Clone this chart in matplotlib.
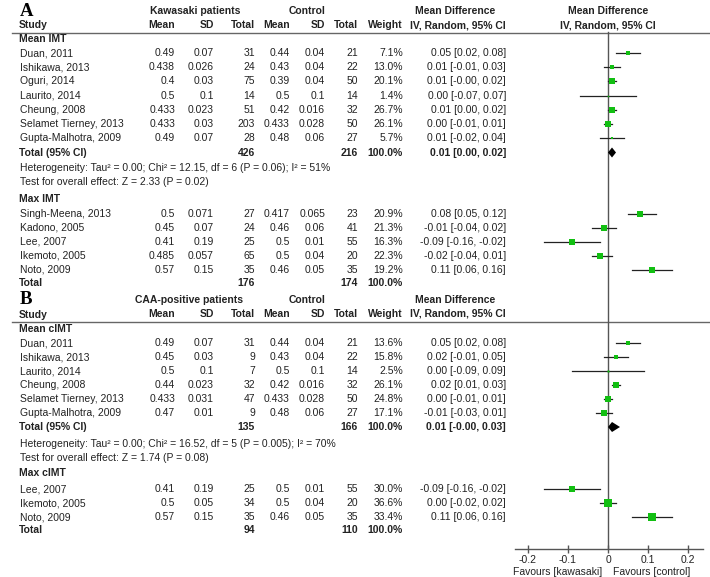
import matplotlib
matplotlib.use("Agg")
from matplotlib import pyplot as plt

plt.rcParams['font.family'] = ['Liberation Sans', 'DejaVu Sans']

# ---- data -------------------------------------------------------------
# panel A, mean IMT
a1_study = ["Duan, 2011", "Ishikawa, 2013", "Oguri, 2014", "Laurito, 2014",
            "Cheung, 2008", "Selamet Tierney, 2013", "Gupta-Malhotra, 2009"]
a1_m1 = [0.49, 0.438, 0.4, 0.5, 0.433, 0.433, 0.49]
a1_s1 = [0.07, 0.026, 0.03, 0.1, 0.023, 0.03, 0.07]
a1_n1 = [31, 24, 75, 14, 51, 203, 28]
a1_m2 = [0.44, 0.43, 0.39, 0.5, 0.42, 0.433, 0.48]
a1_s2 = [0.04, 0.04, 0.04, 0.1, 0.016, 0.028, 0.06]
a1_n2 = [21, 22, 50, 14, 32, 50, 27]
a1_w = [7.1, 13.0, 20.1, 1.4, 26.7, 26.1, 5.7]
a1_md = [0.05, 0.01, 0.01, 0.00, 0.01, 0.00, 0.01]
a1_lo = [0.02, -0.01, -0.0, -0.07, 0.00, -0.01, -0.02]
a1_hi = [0.08, 0.03, 0.02, 0.07, 0.02, 0.01, 0.04]
a1_tot = (426, 216, 0.01, 0.00, 0.02)
a1_het = "Heterogeneity: Tau\u00b2 = 0.00; Chi\u00b2 = 12.15, df = 6 (P = 0.06); I\u00b2 = 51%"
a1_z = "Test for overall effect: Z = 2.33 (P = 0.02)"

# panel A, max IMT
a2_study = ["Singh-Meena, 2013", "Kadono, 2005", "Lee, 2007", "Ikemoto, 2005", "Noto, 2009"]
a2_m1 = [0.5, 0.45, 0.41, 0.485, 0.57]
a2_s1 = [0.071, 0.07, 0.19, 0.057, 0.15]
a2_n1 = [27, 24, 25, 65, 35]
a2_m2 = [0.417, 0.46, 0.5, 0.5, 0.46]
a2_s2 = [0.065, 0.06, 0.01, 0.04, 0.05]
a2_n2 = [23, 41, 55, 20, 35]
a2_w = [20.9, 21.3, 16.3, 22.3, 19.2]
a2_md = [0.08, -0.01, -0.09, -0.02, 0.11]
a2_lo = [0.05, -0.04, -0.16, -0.04, 0.06]
a2_hi = [0.12, 0.02, -0.02, 0.01, 0.16]
a2_tot = (176, 174)

# panel B, mean cIMT
b1_study = ["Duan, 2011", "Ishikawa, 2013", "Laurito, 2014", "Cheung, 2008",
            "Selamet Tierney, 2013", "Gupta-Malhotra, 2009"]
b1_m1 = [0.49, 0.45, 0.5, 0.44, 0.433, 0.47]
b1_s1 = [0.07, 0.03, 0.1, 0.023, 0.031, 0.01]
b1_n1 = [31, 9, 7, 32, 47, 9]
b1_m2 = [0.44, 0.43, 0.5, 0.42, 0.433, 0.48]
b1_s2 = [0.04, 0.04, 0.1, 0.016, 0.028, 0.06]
b1_n2 = [21, 22, 14, 32, 50, 27]
b1_w = [13.6, 15.8, 2.5, 26.1, 24.8, 17.1]
b1_md = [0.05, 0.02, 0.00, 0.02, 0.00, -0.01]
b1_lo = [0.02, -0.01, -0.09, 0.01, -0.01, -0.03]
b1_hi = [0.08, 0.05, 0.09, 0.03, 0.01, 0.01]
b1_tot = (135, 166, 0.01, -0.0, 0.03)
b1_het = "Heterogeneity: Tau\u00b2 = 0.00; Chi\u00b2 = 16.52, df = 5 (P = 0.005); I\u00b2 = 70%"
b1_z = "Test for overall effect: Z = 1.74 (P = 0.08)"

# panel B, max cIMT
b2_study = ["Lee, 2007", "Ikemoto, 2005", "Noto, 2009"]
b2_m1 = [0.41, 0.5, 0.57]
b2_s1 = [0.19, 0.05, 0.15]
b2_n1 = [25, 34, 35]
b2_m2 = [0.5, 0.5, 0.46]
b2_s2 = [0.01, 0.04, 0.05]
b2_n2 = [55, 20, 35]
b2_w = [30.0, 36.6, 33.4]
b2_md = [-0.09, 0.00, 0.11]
b2_lo = [-0.16, -0.02, 0.06]
b2_hi = [-0.02, 0.02, 0.16]
b2_tot = (94, 110)

ticks = [-0.2, -0.1, 0, 0.1, 0.2]
tick_labels = ["-0.2", "-0.1", "0", "0.1", "0.2"]

# ---- layout -----------------------------------------------------------
TXT = '#222222'
GREEN = '#12bf12'
FS = 7.5
cols = [175, 214, 255, 290, 325, 358]   # right edges of numeric columns
X_W = 403
X_CI = 506

fig = plt.figure(figsize=(7.1, 5.77), dpi=100)
ax = fig.add_axes([0, 0, 1, 1])
ax.set_xlim(0, 710)
ax.set_ylim(577, 0)
ax.axis('off')

fx = fig.add_axes([515 / 710, 28 / 577, 188 / 710, 549 / 577])
fx.set_xlim(-0.2325, 0.2375)
fx.set_ylim(549, 0)
fx.patch.set_alpha(0)
for s in ['top', 'left', 'right']:
    fx.spines[s].set_visible(False)
fx.spines['bottom'].set_color('#555555')
fx.spines['bottom'].set_linewidth(1)
fx.set_yticks([])
fx.set_xticks(ticks)
fx.set_xticklabels(tick_labels)
fx.tick_params(axis='x', direction='inout', length=6, width=1, color='#555555',
               labelsize=FS, labelcolor=TXT, pad=1)
fx.plot([0, 0], [32, 549], color='#555555', lw=1, zorder=1)


def txt(x, y, s, ha='left', bold=False, **kw):
    ax.text(x, y, s, ha=ha, va='center', fontsize=FS, color=TXT,
            fontweight='bold' if bold else 'normal', **kw)


def ci_str(md, lo, hi):
    return f"{md:.2f} [{lo:.2f}, {hi:.2f}]"


def header(y, letter, group, top_right):
    ax.text(20, y + 4.5, letter, ha='left', va='baseline', fontsize=13.5,
            fontweight='bold', family='Liberation Serif', color='black')
    txt(195 if group.startswith('K') else 189, y, group, ha='center', bold=True)
    txt(307, y, "Control", ha='center', bold=True)
    txt(455, y, "Mean Difference", ha='center', bold=True)
    y2 = y + 14
    txt(19, y2 + 0.5, "Study", bold=True)
    for x, s in zip(cols, ["Mean", "SD", "Total", "Mean", "SD", "Total"]):
        txt(x, y2, s, ha='right', bold=True)
    txt(X_W, y2, "Weight", ha='right', bold=True)
    txt(X_CI, y2, "IV, Random, 95% CI", ha='right', bold=True)
    if top_right:
        txt(608, y, "Mean Difference", ha='center', bold=True)
        txt(608, y2, "IV, Random, 95% CI", ha='center', bold=True)
    ax.plot([12, 710], [y2 + 8, y2 + 8], color='#666666', lw=1)


def group(y_label, y0, step, name, study, m1, s1, n1, m2, s2, n2, w, md, lo, hi):
    txt(19, y_label, name, bold=True)
    for i in range(len(study)):
        y = y0 + i * step
        txt(20, y, study[i])
        for x, v in zip(cols, [m1[i], s1[i], n1[i], m2[i], s2[i], n2[i]]):
            txt(x, y, str(v), ha='right')
        txt(X_W, y, f"{w[i]:.1f}%", ha='right')
        txt(X_CI, y, ci_str(md[i], lo[i], hi[i]), ha='right')
        fx.plot([lo[i], hi[i]], [y, y], color='#222222', lw=0.9, zorder=2)
        fx.plot(md[i], y, 's', color=GREEN, mec=GREEN, mew=0,
                ms=0.9 * w[i] ** 0.5, zorder=3)


def total(y, label, tot):
    txt(19, y, label, bold=True)
    txt(cols[2], y, str(tot[0]), ha='right', bold=True)
    txt(cols[5], y, str(tot[1]), ha='right', bold=True)
    txt(X_W, y, "100.0%", ha='right', bold=True)
    if len(tot) > 2:
        md, lo, hi = tot[2], tot[3], tot[4]
        txt(X_CI, y, ci_str(md, lo, hi), ha='right', bold=True)
        fx.fill([lo, md, hi, md], [y, y - 5, y, y + 5], color='black', lw=0, zorder=3)


# panel A
header(11, "A", "Kawasaki patients", True)
group(39, 53, 14.2, "Mean IMT", a1_study, a1_m1, a1_s1, a1_n1, a1_m2, a1_s2,
      a1_n2, a1_w, a1_md, a1_lo, a1_hi)
total(152.5, "Total (95% CI)", a1_tot)
txt(20, 168, a1_het)
txt(20, 182, a1_z)
group(199, 214, 14, "Max IMT", a2_study, a2_m1, a2_s1, a2_n1, a2_m2, a2_s2,
      a2_n2, a2_w, a2_md, a2_lo, a2_hi)
total(283.5, "Total", a2_tot)

# panel B
header(300, "B", "CAA-positive patients", False)
group(329, 343, 14, "Mean cIMT", b1_study, b1_m1, b1_s1, b1_n1, b1_m2, b1_s2,
      b1_n2, b1_w, b1_md, b1_lo, b1_hi)
total(427, "Total (95% CI)", b1_tot)
txt(20, 444, b1_het)
txt(20, 458, b1_z)
group(473, 489, 14, "Max cIMT", b2_study, b2_m1, b2_s1, b2_n1, b2_m2, b2_s2,
      b2_n2, b2_w, b2_md, b2_lo, b2_hi)
total(530, "Total", b2_tot)

txt(558, 572, "Favours [kawasaki]", ha='center')
txt(652, 572, "Favours [control]", ha='center')

fig.savefig("out.png", dpi=100)
